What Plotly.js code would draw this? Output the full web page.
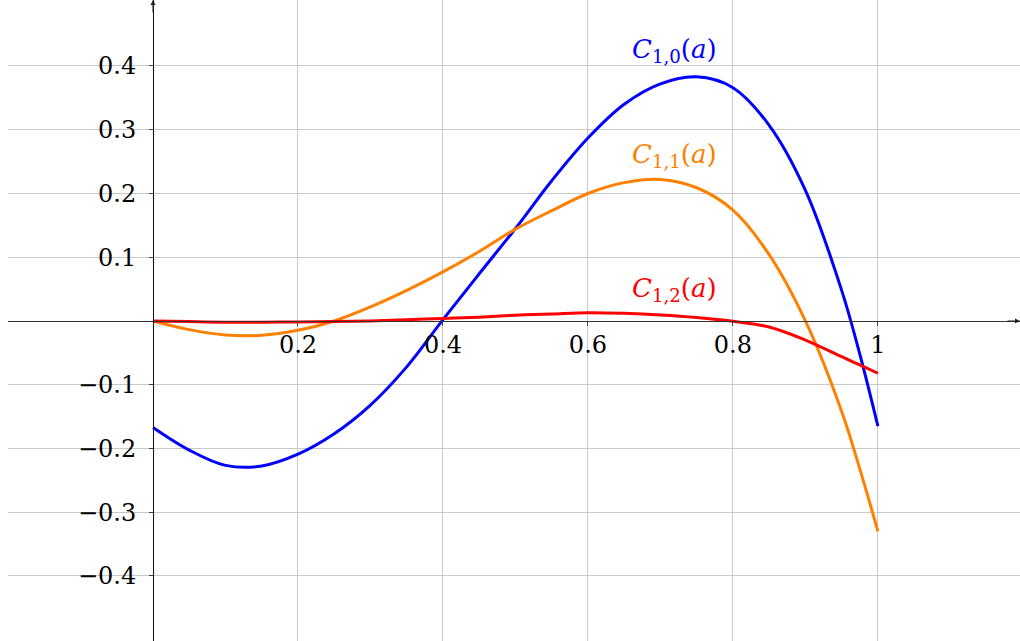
<!DOCTYPE html>
<html>
<head>
<meta charset="utf-8">
<script src="https://cdn.plot.ly/plotly-3.0.1.min.js"></script>
<style>
  html, body { margin: 0; padding: 0; background: #fff; }
  #chart { width: 1020px; height: 641px; }
</style>
</head>
<body>
<div id="chart"></div>
<script>
// values
var aVals = [0, 0.05, 0.1, 0.15, 0.2, 0.25, 0.3, 0.35, 0.4, 0.45, 0.5, 0.55, 0.6, 0.65, 0.7, 0.75, 0.8, 0.85, 0.9, 0.95, 0.975, 1];
var c10 = [-0.167, -0.2025, -0.2265, -0.2275, -0.209, -0.177, -0.132, -0.072, 0.002, 0.074, 0.145, 0.220, 0.287, 0.340, 0.372, 0.383, 0.366, 0.307, 0.205, 0.048, -0.052, -0.165];
var c11 = [0, -0.0136, -0.022, -0.0225, -0.0146, 0.0, 0.022, 0.048, 0.077, 0.109, 0.144, 0.173, 0.200, 0.217, 0.222, 0.209, 0.174, 0.104, 0.0, -0.142, -0.232, -0.33];
var c12 = [0, -0.001, -0.002, -0.002, -0.0015, -0.001, 0.0, 0.002, 0.004, 0.006, 0.009, 0.011, 0.013, 0.012, 0.0095, 0.0055, -0.0005, -0.0095, -0.030, -0.056, -0.069, -0.082];

var xTickVals = [0.2, 0.4, 0.6, 0.8, 1];
var xTickText = ["0.2", "0.4", "0.6", "0.8", "1"];
var yTickVals = [-0.4, -0.3, -0.2, -0.1, 0.1, 0.2, 0.3, 0.4];
var yTickText = ["\u22120.4", "\u22120.3", "\u22120.2", "\u22120.1", "0.1", "0.2", "0.3", "0.4"];

var colors = ["#0000ff", "#ff8000", "#ff0000"];

var xRange = [-0.2, 1.196];
var yRange = [-0.502, 0.5035];

var series = [c10, c11, c12];
var data = [];
for (var i = 0; i < series.length; i++) {
  data.push({
    type: "scatter",
    mode: "lines",
    x: aVals,
    y: series[i],
    line: { color: colors[i], width: 3, shape: "spline", smoothing: 1 },
    hoverinfo: "skip",
  });
}

var font = { family: "DejaVu Serif", size: 24, color: "#000" };

var layout = {
  width: 1020,
  height: 641,
  margin: { l: 8, r: 0, t: 0, b: 0 },
  paper_bgcolor: "#fff",
  plot_bgcolor: "#fff",
  showlegend: false,
  font: font,
  xaxis: {
    range: xRange,
    anchor: "free",
    position: (0 - yRange[0]) / (yRange[1] - yRange[0]),
    tickmode: "array",
    tickvals: xTickVals,
    ticktext: xTickText,
    ticks: "outside",
    ticklen: 4,
    tickcolor: "#444",
    ticklabelstandoff: -2,
    showgrid: true,
    gridcolor: "#c8c8c8",
    gridwidth: 1,
    zeroline: false,
    showline: true,
    linecolor: "#333",
    linewidth: 1,
    tickfont: font,
  },
  yaxis: {
    range: yRange,
    anchor: "free",
    position: (0 - xRange[0]) / (xRange[1] - xRange[0]),
    tickmode: "array",
    tickvals: yTickVals,
    ticktext: yTickText,
    ticks: "outside",
    ticklen: 4,
    tickcolor: "#444",
    ticklabelstandoff: 8,
    showgrid: true,
    gridcolor: "#c8c8c8",
    gridwidth: 1,
    zeroline: false,
    showline: true,
    linecolor: "#111",
    linewidth: 1,
    tickfont: font,
  },
  annotations: [
    // arrow heads on the axes
    { x: xRange[1], y: 0, xref: "x", yref: "y", ax: -14, ay: 0, text: "", showarrow: true, arrowhead: 2, arrowsize: 1, arrowwidth: 1, arrowcolor: "#222" },
    { x: 0, y: yRange[1], xref: "x", yref: "y", ax: 0, ay: 14, text: "", showarrow: true, arrowhead: 2, arrowsize: 1, arrowwidth: 1, arrowcolor: "#222" },
  ],
};

// curve labels
var labelPos = [[0.72, 0.425], [0.72, 0.26], [0.72, 0.05]];
for (var j = 0; j < series.length; j++) {
  layout.annotations.push({
    x: labelPos[j][0],
    y: labelPos[j][1],
    xref: "x",
    yref: "y",
    text: "<i>C</i><sub>1," + j + "</sub>(<i>a</i>)",
    showarrow: false,
    font: { family: font.family, size: 26, color: colors[j] },
  });
}

Plotly.newPlot("chart", data, layout, { displayModeBar: false, staticPlot: true });
</script>
</body>
</html>
